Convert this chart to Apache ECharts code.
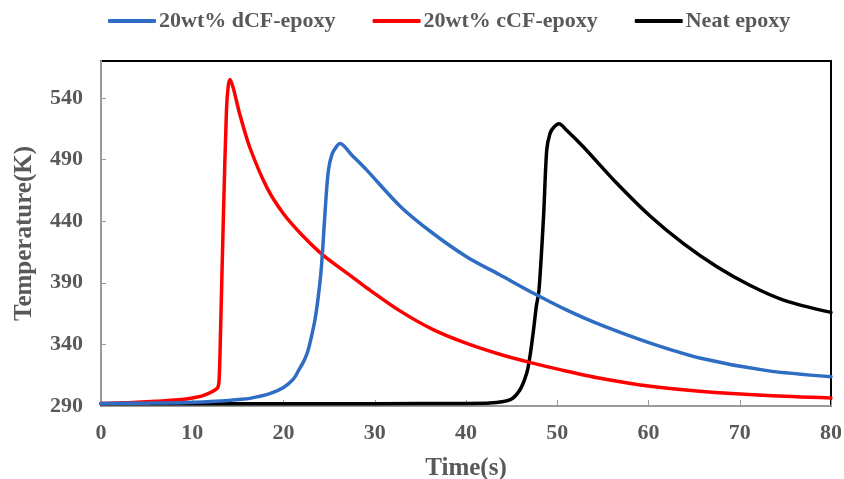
<!DOCTYPE html>
<html>
<head>
<meta charset="utf-8">
<script src="https://cdn.jsdelivr.net/npm/echarts@6/dist/echarts.min.js"></script>
<style>
  html, body { margin: 0; padding: 0; background: #fff; }
  #chart { width: 844px; height: 479px; }
</style>
</head>
<body>
<div id="chart"></div>
<script>
// Temperature history of the three samples (time in s, temperature in K)
const seriesNames = ['20wt% dCF-epoxy', '20wt% cCF-epoxy', 'Neat epoxy'];

const dcfTime = [0, 5, 9.5, 13, 15, 16.3, 18.5, 20, 21.1, 21.7, 22.2, 22.6, 22.9, 23.45, 23.8, 24.1, 24.3, 24.55, 24.9, 25.3, 25.8, 26.2, 27.5, 29.1, 32.8, 36.4, 40.1, 43.7, 47.4, 51, 54.7, 60.2, 65.6, 73, 80];
const dcfTemp = [292, 292.3, 292.8, 294, 295.3, 296.2, 300, 305, 312, 319.5, 326, 333, 341, 360, 378, 398, 418, 447, 480, 494, 500.5, 503, 493.5, 481.6, 452, 430, 411, 396.5, 381.5, 368, 356, 341, 329, 318.7, 313.8];

const ccfTime = [0, 3, 6, 8.5, 10, 11, 11.8, 12.4, 12.8, 12.95, 13.1, 13.4, 13.75, 13.95, 14.14, 14.5, 15.2, 16.3, 18.2, 20, 22, 24.4, 27.3, 29.1, 32.8, 36.4, 40, 43.7, 47.2, 50.3, 54.7, 60.2, 65.6, 73, 80];
const ccfTemp = [292, 292.7, 293.8, 295, 296.5, 298, 300.3, 302.5, 305, 312, 350, 440, 530, 550, 555, 548, 527, 500, 467, 446, 429, 412, 396, 386, 367, 352, 341, 332, 325, 319.5, 312.5, 306, 302, 298.5, 296.5];

const neatTime = [0, 10, 20, 30, 40, 42.6, 44.8, 45.9, 46.65, 47.0, 47.4, 47.7, 48.0, 48.5, 48.85, 49.2, 49.6, 50.2, 51, 52.9, 56.5, 60.2, 63.8, 67.5, 71.1, 74.8, 80];
const neatTemp = [291.8, 291.8, 291.8, 291.9, 292.1, 292.4, 294.9, 303, 316.5, 330, 351.7, 370.6, 384, 444, 498, 511, 516, 519, 514, 500, 471, 444, 422, 403, 388, 376, 366];

const xTicks = [0, 10, 20, 30, 40, 50, 60, 70, 80];
const yTicks = [290, 340, 390, 440, 490, 540];

const colors = ['#2E6DC3', '#FF0000', '#000000'];

function zip(xs, ys) {
  return xs.map((x, i) => [x, ys[i]]);
}

const labelFont = {
  fontFamily: '"Liberation Serif", "Times New Roman", serif',
  fontWeight: 'bold',
  color: '#595959'
};

const chart = echarts.init(document.getElementById('chart'));

const allData = [zip(dcfTime, dcfTemp), zip(ccfTime, ccfTemp), zip(neatTime, neatTemp)];

chart.setOption({
  animation: false,
  backgroundColor: '#fff',
  legend: {
    top: 5,
    left: 103,
    itemWidth: 48,
    itemHeight: 4,
    itemGap: 37,
    icon: 'roundRect',
    textStyle: Object.assign({ fontSize: 22, padding: [0, 0, 0, -2] }, labelFont),
    data: seriesNames
  },
  grid: {
    left: 101,
    right: 13,
    top: 61,
    bottom: 73,
    outerBoundsMode: 'none',
    containLabel: false,
    show: true,
    borderColor: '#000',
    borderWidth: 2,
    backgroundColor: '#fff'
  },
  xAxis: {
    type: 'value',
    min: xTicks[0],
    max: xTicks[xTicks.length - 1],
    interval: 10,
    name: 'Time(s)',
    nameLocation: 'middle',
    nameGap: 50,
    nameTextStyle: Object.assign({ fontSize: 25 }, labelFont),
    axisLine: { show: true, lineStyle: { color: '#9a9a9a', width: 2 } },
    axisTick: { show: true, inside: true, length: 6, lineStyle: { color: '#9a9a9a', width: 1 } },
    axisLabel: Object.assign({ fontSize: 22, margin: 16 }, labelFont),
    splitLine: { show: false }
  },
  yAxis: {
    type: 'value',
    min: 290,
    max: 570,
    name: 'Temperature(K)',
    nameLocation: 'middle',
    nameGap: 64,
    nameTextStyle: Object.assign({ fontSize: 25 }, labelFont),
    axisLine: { show: true, lineStyle: { color: '#9a9a9a', width: 2 } },
    axisTick: { show: true, inside: true, length: 5, customValues: yTicks, lineStyle: { color: '#9a9a9a', width: 1 } },
    axisLabel: Object.assign({ fontSize: 22, margin: 18, customValues: yTicks }, labelFont),
    splitLine: { show: false }
  },
  series: seriesNames.map((name, i) => ({
    name: name,
    type: 'line',
    data: allData[i],
    showSymbol: false,
    smooth: 0.3,
    color: colors[i],
    lineStyle: { color: colors[i], width: 3.5, cap: 'round', join: 'round' },
    z: 3 - i
  }))
});
</script>
</body>
</html>
